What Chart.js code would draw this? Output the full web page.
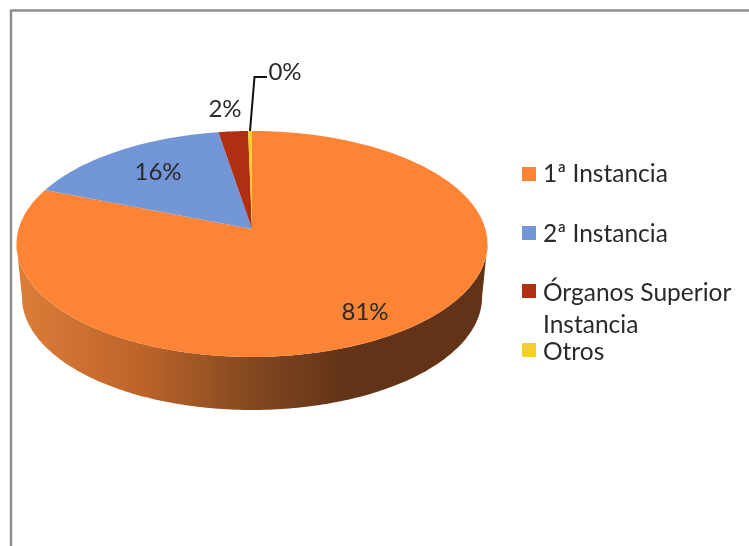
<!DOCTYPE html>
<html>
<head>
<meta charset="utf-8">
<style>
html, body { margin: 0; padding: 0; background: #fff; }
canvas { display: block; }
</style>
<script src="https://cdn.jsdelivr.net/npm/chart.js@4/dist/chart.umd.min.js"></script>
</head>
<body>
<canvas id="overview" width="749" height="546"></canvas>
<script>
var categories = ["1ª Instancia", "2ª Instancia", "Órganos Superior Instancia", "Otros"];
var values = [81.0, 16.4, 2.3, 0.3];
var colors = ["#fd8335", "#7396d8", "#b02e12", "#f7cf2b"];

var LABEL_FONT = '24px Lato, "Open Sans", sans-serif';
var LEGEND_FONT = '24.5px Lato, "Open Sans", sans-serif';
var TEXT = "#2a2a2a";

// the disc is seen in perspective, so the slices meet above the middle of the ellipse
var disc = { cx: 252, cy: 229, a: 233.4, b: 111, k: -0.1327, depth: 53, shrink: 0.977 };

var labelPos = [[365, 312], [158, 172], [225, 109], [285, 72]];
var legendPos = [
    { box: 167, lines: [[categories[0], 174]] },
    { box: 226, lines: [[categories[1], 234]] },
    { box: 284, lines: [["Órganos Superior", 293], ["Instancia", 325]] },
    { box: 343, lines: [[categories[3], 352]] }
];

function project(angle) {
    var u = Math.cos(angle), v = Math.sin(angle);
    var w = 1 + disc.k * v;
    return { x: disc.cx + disc.a * u / w, y: disc.cy + disc.b * v / w };
}

function drawWall(ctx) {
    var grad = ctx.createLinearGradient(20, 0, 485, 0);
    grad.addColorStop(0, "#db7c38");
    grad.addColorStop(0.25, "#bf652a");
    grad.addColorStop(0.5, "#834820");
    grad.addColorStop(0.7, "#623317");
    grad.addColorStop(1, "#623317");
    // front part of the rim, between the two widest points of the ellipse
    var from = Math.asin(-disc.k), to = Math.PI - from;
    var i, p, steps = 180;
    ctx.beginPath();
    for (i = 0; i <= steps; i++) {
        p = project(to + (from - to) * i / steps);
        ctx.lineTo(disc.cx + (p.x - disc.cx) * disc.shrink, p.y + disc.depth);
    }
    for (i = steps; i >= 0; i--) {
        p = project(to + (from - to) * i / steps);
        ctx.lineTo(p.x, p.y);
    }
    ctx.closePath();
    ctx.fillStyle = grad;
    ctx.fill();
}

function drawSlice(ctx, arc, color) {
    var steps = Math.max(2, Math.ceil((arc.endAngle - arc.startAngle) * 60));
    ctx.beginPath();
    ctx.moveTo(disc.cx, disc.cy);
    for (var i = 0; i <= steps; i++) {
        var p = project(arc.startAngle + (arc.endAngle - arc.startAngle) * i / steps);
        ctx.lineTo(p.x, p.y);
    }
    ctx.closePath();
    ctx.fillStyle = color;
    ctx.fill();
}

var pie3d = {
    id: "pie3d",
    beforeDatasetsDraw: function(chart) {
        var ctx = chart.ctx;
        var arcs = chart.getDatasetMeta(0).data;
        var i;

        // frame of the picture, open to the right and the bottom
        ctx.save();
        ctx.strokeStyle = "#8f8f8f";
        ctx.lineWidth = 2.5;
        ctx.beginPath();
        ctx.moveTo(11, 546);
        ctx.lineTo(11, 10.5);
        ctx.lineTo(749, 10.5);
        ctx.stroke();

        drawWall(ctx);
        for (i = 0; i < arcs.length; i++) {
            drawSlice(ctx, arcs[i], colors[i]);
        }

        // leader line of the smallest slice
        ctx.strokeStyle = "#111";
        ctx.lineWidth = 2;
        ctx.beginPath();
        ctx.moveTo(250, 131);
        ctx.lineTo(254.5, 77);
        ctx.lineTo(267, 77);
        ctx.stroke();

        ctx.font = LABEL_FONT;
        ctx.fillStyle = TEXT;
        ctx.textAlign = "center";
        ctx.textBaseline = "middle";
        var total = values.reduce(function(a, b) { return a + b; }, 0);
        for (i = 0; i < values.length; i++) {
            ctx.fillText(Math.round(values[i] / total * 100) + "%", labelPos[i][0], labelPos[i][1]);
        }

        ctx.font = LEGEND_FONT;
        ctx.textAlign = "left";
        for (i = 0; i < legendPos.length; i++) {
            ctx.fillStyle = colors[i];
            ctx.fillRect(522, legendPos[i].box, 14, 14);
            ctx.fillStyle = TEXT;
            legendPos[i].lines.forEach(function(line) {
                ctx.fillText(line[0], 543, line[1]);
            });
        }
        ctx.restore();
        return false;
    }
};

var config = {
    type: 'pie',
    data: {
        labels: categories,
        datasets: [
            {
                data: values,
                backgroundColor: colors
            }
        ]
    },
    options: {
        responsive: false,
        animation: false,
        plugins: {
            legend: { display: false },
            tooltip: { enabled: false }
        }
    },
    plugins: [pie3d]
};

var ctx = document.getElementById("overview").getContext("2d");
var myNewChart = new Chart(ctx, config);
</script>
</body>
</html>
